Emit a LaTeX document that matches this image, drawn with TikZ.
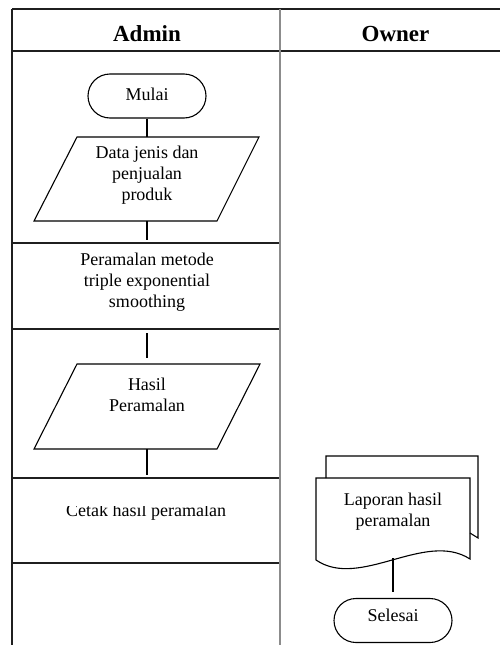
\documentclass[tikz,border=0pt]{standalone}
\usepackage{fontspec}
\setmainfont{Liberation Serif}
\newcommand\bodyfs{\fontsize{18}{21}\selectfont}
\newcommand\headfs{\fontsize{23}{27}\selectfont\bfseries}
\begin{document}
\begin{tikzpicture}[x=1pt,y=-1pt,
  tbl/.style={line width=1.2pt, draw=black!88},
  lane/.style={line width=2pt, draw=black!45},
  shp/.style={line width=1.1pt, draw=black},
  conn/.style={line width=1.6pt, draw=black},
  term/.style={shp, rounded corners=22pt, minimum width=118pt, minimum height=44pt,
               inner sep=0pt, font=\bodyfs, text height=12.3pt, text depth=4pt},
  txt/.style={align=center, inner sep=0pt, font=\bodyfs},
  head/.style={inner sep=0pt, font=\headfs, anchor=base}]
\useasboundingbox (0,0) rectangle (500,645);

% table
\draw[tbl] (12,9) -- (500,9);
\draw[tbl] (12,51) -- (500,51);
\draw[tbl] (12,9) -- (12,645);
\draw[tbl] (12,243) -- (280,243);
\draw[tbl] (12,329) -- (280,329);
\draw[tbl] (12,478) -- (280,478);
\draw[tbl] (12,563) -- (280,563);
\draw[lane] (280,9) -- (280,645);

\node[head] (hadmin) at (147,41) {Admin};
\node[head] (howner) at (395.5,41) {Owner};

% Mulai
\node[term] (mulai) at (147,96) {Mulai};

% input 1
\draw[shp] (77,137) -- (259,137) -- (217,221) -- (34,221) -- cycle;
\coordinate (in1n) at (147,137);
\coordinate (in1s) at (147,221);
\node[txt, anchor=north] (in1) at (147,145.7) {Data jenis dan\\penjualan\\produk};

% process row
\coordinate (procn) at (147,240);
\coordinate (procs) at (147,333);
\node[txt, anchor=north] (proc) at (147,252.7) {Peramalan metode\\triple exponential\\smoothing};

% input 2
\draw[shp] (77,364) -- (260,364) -- (217,449) -- (34,449) -- cycle;
\coordinate (in2n) at (147,358);
\coordinate (in2s) at (147,449);
\node[txt, anchor=north] (in2) at (147,377.7) {Hasil\\Peramalan};

% cetak row
\coordinate (cetakn) at (147,475);
\begin{scope}
  \clip (12,506.5) rectangle (280,563);
  \node[txt, anchor=base] (cetak) at (146,516) {Cetak hasil peramalan};
\end{scope}

% document stack (owner)
\draw[shp] (326,478) -- (326,456) -- (478,456) -- (478,538) -- (470,533);
\draw[shp] (316,560) -- (316,478) -- (470,478) -- (470,559)
   .. controls (425,530) and (360,590) .. cycle;
\coordinate (docs) at (393,558);
\node[txt, anchor=north] (doc) at (393,492.7) {Laporan hasil\\peramalan};

% Selesai
\node[term, text depth=10pt] (selesai) at (393,620.5) {Selesai};
\coordinate (selesain) at (393,592);

% connectors
\draw[conn] (mulai.south) -- (in1n);
\draw[conn] (in1s) -- (procn);
\draw[conn] (procs) -- (in2n);
\draw[conn] (in2s) -- (cetakn);
\draw[conn] (docs) -- (selesain);
\end{tikzpicture}
\end{document}
